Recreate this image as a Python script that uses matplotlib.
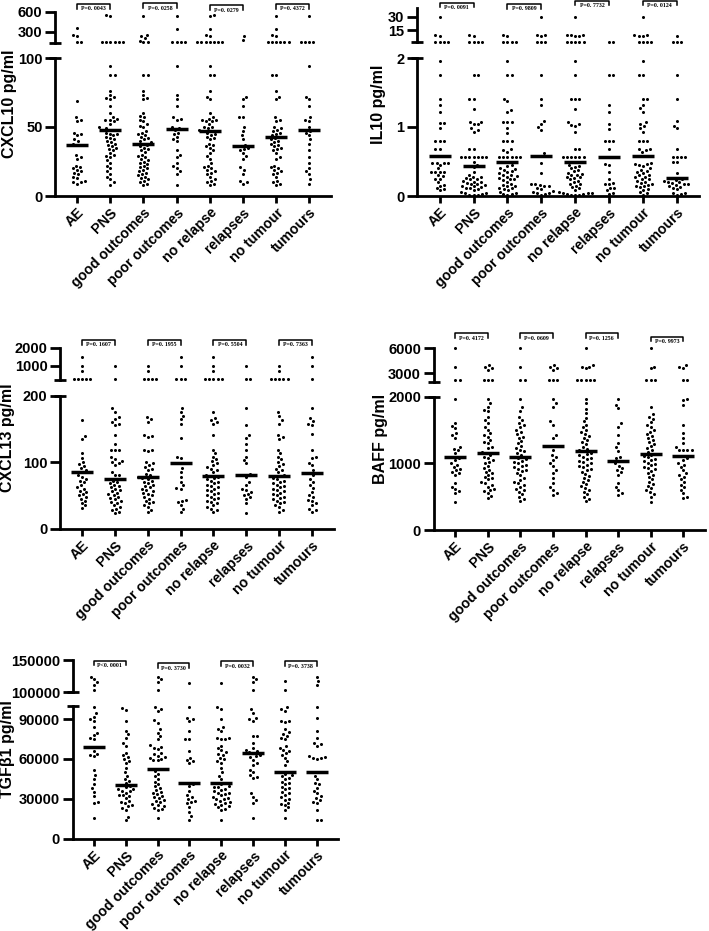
import numpy as np
import matplotlib
matplotlib.use("Agg")
import matplotlib.pyplot as plt
from matplotlib.transforms import blended_transform_factory

plt.rcParams['font.family'] = ['Liberation Sans', 'DejaVu Sans']
plt.rcParams['font.weight'] = 'bold'

W, H = 709, 931
fig = plt.figure(figsize=(W / 100, H / 100), dpi=100)

categories = ['AE', 'PNS', 'good outcomes', 'poor outcomes', 'no relapse',
              'relapses', 'no tumour', 'tumours']

# ---------------- CXCL10 (pg/ml) ----------------
cxcl10 = [
    [350, 245, 235, 150, 145, 69, 57, 55, 54, 46, 45, 44, 41, 40, 38, 37, 37, 30, 28, 27, 22, 21, 20, 19, 18, 17, 16, 14, 13, 11, 10, 10, 9],
    [545, 540, 150, 148, 145, 152, 142, 140, 94, 88, 88, 76, 73, 72, 71, 70, 65, 60, 57, 56, 55, 55, 54, 52, 50, 49, 48, 48, 48, 48, 46, 45, 45, 44, 43, 42, 41, 40, 39, 38, 37, 36, 35, 34, 33, 31, 30, 29, 28, 26, 24, 22, 20, 18, 16, 14, 12, 10, 8],
    [540, 250, 230, 200, 160, 150, 140, 88, 88, 76, 73, 71, 70, 60, 58, 57, 55, 54, 52, 51, 50, 47, 46, 45, 44, 43, 42, 41, 40, 39, 38, 38, 37, 36, 35, 34, 33, 32, 30, 29, 28, 27, 26, 25, 24, 23, 22, 21, 20, 19, 18, 17, 16, 15, 14, 13, 12, 11, 10, 9, 8],
    [540, 345, 150, 145, 140, 145, 94, 73, 70, 65, 57, 56, 55, 50, 49, 48, 46, 45, 43, 41, 40, 33, 30, 28, 24, 22, 20, 18, 16, 8],
    [545, 540, 345, 245, 235, 150, 148, 145, 142, 140, 152, 138, 94, 88, 88, 76, 72, 70, 60, 57, 56, 55, 55, 54, 54, 52, 50, 50, 49, 48, 47, 47, 47, 46, 45, 44, 43, 42, 41, 38, 37, 36, 35, 33, 31, 29, 27, 24, 22, 21, 20, 19, 18, 17, 16, 14, 12, 11, 10, 9, 8],
    [240, 180, 72, 70, 65, 57, 57, 50, 47, 44, 41, 37, 36, 36, 35, 34, 33, 31, 29, 27, 21, 19, 16, 11, 10, 9],
    [540, 345, 245, 235, 150, 148, 145, 142, 140, 152, 88, 88, 76, 72, 70, 57, 55, 54, 50, 49, 48, 47, 46, 45, 44, 43, 42, 41, 40, 39, 38, 37, 36, 35, 34, 33, 31, 28, 27, 22, 21, 20, 19, 18, 17, 16, 14, 11, 10, 9, 8],
    [540, 150, 145, 140, 148, 94, 72, 70, 65, 57, 55, 54, 50, 48, 47, 46, 44, 41, 38, 33, 28, 24, 20, 18, 16, 12, 9],
]
cxcl10_p = ['P=0. 0043', 'P=0. 0258', 'P=0. 0279', 'P=0. 4372']

# ---------------- IL10 (pg/ml) ----------------
il10 = [
    [30, 9.5, 9.2, 2.8, 2.8, 2.8, 2.8, 1.96, 1.75, 1.40, 1.32, 1.22, 1.06, 1.06, 0.98, 0.80, 0.80, 0.80, 0.68, 0.68, 0.58, 0.48, 0.48, 0.48, 0.48, 0.45, 0.40, 0.35, 0.35, 0.35, 0.35, 0.30, 0.29, 0.25, 0.25, 0.20, 0.16, 0.15, 0.12, 0.10, 0.08],
    [9.5, 9.0, 2.8, 2.8, 2.8, 2.8, 1.75, 1.75, 1.41, 1.41, 1.26, 1.07, 1.07, 1.04, 1.04, 0.98, 0.95, 0.93, 0.68, 0.68, 0.57, 0.57, 0.57, 0.57, 0.57, 0.57, 0.57, 0.50, 0.45, 0.42, 0.35, 0.30, 0.28, 0.27, 0.26, 0.25, 0.24, 0.22, 0.21, 0.20, 0.19, 0.18, 0.17, 0.16, 0.15, 0.14, 0.13, 0.12, 0.11, 0.10, 0.08, 0.06, 0.05, 0.04, 0.03, 0.02, 0.02, 0.01],
    [9.5, 9.0, 2.8, 2.8, 2.8, 2.8, 1.96, 1.75, 1.75, 1.41, 1.38, 1.25, 1.22, 1.07, 1.07, 1.07, 0.98, 0.92, 0.80, 0.80, 0.80, 0.68, 0.66, 0.64, 0.57, 0.57, 0.57, 0.57, 0.57, 0.57, 0.49, 0.49, 0.45, 0.44, 0.40, 0.39, 0.38, 0.36, 0.35, 0.33, 0.31, 0.30, 0.29, 0.28, 0.26, 0.25, 0.24, 0.23, 0.20, 0.18, 0.16, 0.15, 0.14, 0.12, 0.11, 0.10, 0.08, 0.06, 0.05, 0.03, 0.03, 0.02],
    [30, 9.8, 9.5, 9.2, 2.8, 2.8, 2.8, 1.75, 1.41, 1.32, 1.08, 1.04, 1.00, 0.96, 0.63, 0.58, 0.48, 0.33, 0.18, 0.17, 0.16, 0.15, 0.14, 0.12, 0.10, 0.07, 0.06, 0.05, 0.04, 0.03, 0.02],
    [30, 10, 9.8, 9.5, 9.2, 9.0, 2.8, 2.8, 2.8, 2.8, 2.8, 1.96, 1.75, 1.41, 1.41, 1.41, 1.26, 1.07, 1.05, 1.03, 1.02, 0.93, 0.68, 0.68, 0.57, 0.57, 0.57, 0.57, 0.57, 0.57, 0.49, 0.49, 0.45, 0.44, 0.42, 0.40, 0.38, 0.36, 0.34, 0.32, 0.31, 0.30, 0.28, 0.27, 0.26, 0.24, 0.22, 0.20, 0.18, 0.17, 0.15, 0.13, 0.11, 0.09, 0.06, 0.05, 0.04, 0.04, 0.03, 0.03, 0.02, 0.02, 0.01],
    [2.8, 2.8, 1.75, 1.75, 1.32, 1.22, 1.05, 0.97, 0.80, 0.80, 0.80, 0.68, 0.57, 0.46, 0.45, 0.35, 0.25, 0.19, 0.18, 0.17, 0.12, 0.11, 0.08, 0.05, 0.03],
    [30, 9.8, 9.5, 9.2, 9.0, 2.8, 2.8, 2.8, 2.8, 1.96, 1.75, 1.75, 1.41, 1.41, 1.32, 1.27, 1.22, 1.07, 1.05, 1.02, 0.98, 0.93, 0.80, 0.80, 0.80, 0.68, 0.68, 0.66, 0.64, 0.58, 0.48, 0.47, 0.46, 0.45, 0.44, 0.40, 0.38, 0.36, 0.35, 0.33, 0.31, 0.30, 0.28, 0.27, 0.25, 0.24, 0.22, 0.21, 0.19, 0.18, 0.16, 0.15, 0.14, 0.13, 0.10, 0.09, 0.06, 0.04, 0.02],
    [9.2, 2.8, 2.8, 2.8, 1.75, 1.41, 1.08, 1.02, 0.98, 0.68, 0.57, 0.57, 0.57, 0.57, 0.49, 0.49, 0.33, 0.26, 0.26, 0.24, 0.23, 0.22, 0.21, 0.20, 0.19, 0.18, 0.17, 0.16, 0.15, 0.13, 0.12, 0.10, 0.05, 0.04, 0.03, 0.02],
]
il10_p = ['P=0. 0091', 'P=0. 9809', 'P=0. 7732', 'P=0. 0124']

# ---------------- CXCL13 (pg/ml) ----------------
cxcl13 = [
    [1500, 1000, 700, 260, 250, 240, 255, 245, 163, 140, 135, 113, 106, 100, 97, 94, 91, 88, 85, 80, 78, 75, 72, 70, 65, 62, 60, 57, 55, 52, 50, 48, 45, 42, 38, 35, 31],
    [1000, 250, 181, 176, 168, 165, 160, 158, 156, 141, 128, 118, 118, 118, 108, 105, 102, 100, 98, 96, 85, 80, 80, 75, 74, 72, 70, 68, 66, 64, 62, 60, 58, 56, 54, 52, 50, 48, 46, 44, 42, 40, 38, 35, 32, 30, 28, 25, 23],
    [1000, 700, 260, 250, 245, 240, 168, 165, 161, 141, 140, 138, 118, 118, 116, 100, 98, 96, 93, 90, 88, 82, 80, 78, 77, 76, 75, 72, 70, 68, 66, 64, 62, 60, 58, 56, 54, 52, 50, 48, 45, 42, 40, 38, 35, 32, 28, 25],
    [1500, 1000, 260, 250, 240, 181, 175, 170, 165, 158, 136, 108, 106, 98, 91, 85, 78, 70, 65, 61, 60, 43, 42, 40, 35, 30, 25],
    [1500, 1000, 700, 260, 255, 250, 245, 240, 176, 166, 163, 160, 158, 141, 118, 113, 108, 104, 101, 98, 95, 92, 90, 88, 85, 80, 79, 78, 76, 74, 72, 70, 68, 66, 64, 62, 60, 58, 56, 54, 52, 50, 48, 46, 44, 42, 40, 38, 35, 32, 30, 28, 25],
    [1000, 260, 250, 181, 156, 141, 136, 128, 118, 108, 103, 98, 82, 80, 78, 70, 65, 60, 58, 55, 52, 50, 47, 45, 38, 23],
    [1000, 700, 260, 255, 250, 245, 240, 176, 170, 163, 158, 141, 138, 135, 118, 113, 108, 104, 100, 97, 94, 90, 88, 85, 80, 79, 76, 74, 72, 70, 68, 66, 64, 62, 60, 58, 56, 54, 52, 50, 48, 46, 44, 42, 40, 38, 35, 32, 28, 25],
    [1500, 1000, 250, 181, 166, 162, 158, 156, 143, 118, 108, 106, 99, 95, 88, 84, 80, 75, 70, 65, 61, 55, 50, 48, 43, 42, 38, 35, 30, 28, 25],
]
cxcl13_p = ['P=0. 1607', 'P=0. 1955', 'P=0. 5504', 'P=0. 7363']

# ---------------- BAFF (pg/ml) ----------------
baff = [
    [6000, 3800, 2200, 2200, 1967, 1600, 1560, 1530, 1450, 1420, 1380, 1250, 1220, 1200, 1150, 1100, 1096, 1080, 1050, 1000, 980, 950, 920, 900, 870, 850, 825, 700, 650, 620, 580, 555, 425],
    [4000, 3800, 3600, 3400, 2200, 2200, 2200, 1967, 1900, 1850, 1800, 1780, 1700, 1650, 1600, 1550, 1500, 1450, 1420, 1400, 1350, 1320, 1300, 1250, 1230, 1171, 1150, 1130, 1100, 1080, 1050, 1020, 1000, 960, 930, 900, 870, 850, 825, 800, 780, 760, 720, 700, 680, 650, 620, 600, 580, 550, 510, 475],
    [6000, 3800, 2200, 2200, 1967, 1840, 1780, 1700, 1650, 1600, 1570, 1540, 1500, 1470, 1440, 1400, 1380, 1330, 1300, 1260, 1230, 1200, 1180, 1150, 1130, 1096, 1080, 1060, 1040, 1020, 1000, 980, 960, 940, 920, 900, 880, 850, 820, 780, 750, 720, 700, 680, 650, 620, 600, 570, 540, 500, 470, 440],
    [4000, 3800, 3600, 3400, 2200, 2200, 2200, 1967, 1900, 1850, 1630, 1580, 1430, 1380, 1266, 1200, 1130, 1100, 1050, 1000, 960, 900, 850, 780, 700, 650, 600, 550, 525],
    [6000, 4000, 3800, 3800, 3600, 2200, 2200, 2200, 2200, 2200, 1967, 1900, 1820, 1750, 1680, 1630, 1580, 1540, 1500, 1470, 1440, 1410, 1380, 1350, 1320, 1290, 1250, 1220, 1196, 1180, 1160, 1140, 1120, 1100, 1080, 1060, 1040, 1020, 1000, 980, 960, 940, 920, 900, 870, 840, 810, 780, 750, 720, 690, 660, 630, 600, 570, 540, 500, 470, 440],
    [1967, 1880, 1830, 1600, 1550, 1430, 1300, 1240, 1190, 1100, 1080, 1036, 1000, 960, 930, 900, 870, 825, 700, 650, 600, 560, 525],
    [6000, 3800, 3600, 2200, 2200, 2200, 1840, 1740, 1700, 1670, 1620, 1580, 1540, 1500, 1470, 1440, 1410, 1380, 1350, 1320, 1290, 1260, 1230, 1200, 1170, 1146, 1130, 1110, 1090, 1070, 1050, 1030, 1010, 990, 970, 950, 930, 910, 890, 860, 830, 800, 760, 720, 690, 660, 630, 600, 570, 540, 500, 425],
    [4000, 3800, 3600, 2200, 2200, 1967, 1950, 1880, 1580, 1450, 1380, 1300, 1250, 1200, 1200, 1200, 1200, 1111, 1080, 1050, 1000, 980, 950, 900, 850, 820, 800, 760, 720, 680, 640, 600, 550, 500, 475],
]
baff_p = ['P=0. 4172', 'P=0. 0609', 'P=0. 1256', 'P=0. 9973']

# ---------------- TGFβ1 (pg/ml) ----------------
tgfb1 = [
    [124000, 120000, 116000, 112000, 104000, 98900, 94500, 92000, 90000, 88700, 84000, 80000, 78000, 76000, 74800, 69000, 68900, 66000, 64000, 63000, 62000, 51500, 48000, 45000, 41000, 38000, 35000, 31700, 27200, 27000, 15300],
    [98300, 97000, 88700, 81100, 78500, 76100, 72300, 69700, 64700, 63000, 61500, 60000, 58500, 57100, 53300, 50000, 47500, 45000, 43500, 41900, 40100, 39300, 38500, 37700, 37000, 36200, 35500, 34700, 33200, 32500, 31800, 30300, 28000, 27300, 26500, 25000, 24300, 22800, 21600, 16500, 14000],
    [124000, 120000, 116000, 104000, 98900, 97500, 96300, 89500, 87500, 82400, 80000, 77400, 74800, 70300, 69300, 68300, 67300, 64700, 63500, 62500, 61700, 61000, 60300, 59600, 59000, 52500, 51000, 49000, 47000, 45000, 43000, 41000, 39500, 38000, 36500, 35000, 34000, 33500, 32000, 31000, 30500, 29000, 28000, 27500, 26000, 25000, 24500, 23000, 22000, 21600, 15300],
    [114000, 98900, 91300, 90000, 88700, 81100, 75400, 75000, 66000, 61000, 59500, 58300, 57100, 41900, 41000, 39300, 36000, 32900, 31500, 30000, 28500, 27500, 26600, 24000, 20300, 17000, 14000],
    [114000, 98900, 98000, 90000, 84000, 82500, 81100, 76000, 75500, 75000, 74800, 69700, 68000, 66500, 65000, 64000, 63000, 61000, 59700, 58400, 57100, 53300, 50000, 47500, 44700, 41600, 40800, 39500, 39000, 38500, 37500, 36500, 35500, 34500, 34000, 33500, 32500, 31500, 30500, 30000, 29500, 28500, 27500, 26500, 26000, 25500, 24500, 23500, 22500, 21600, 14000],
    [124000, 120000, 116000, 104000, 97600, 95000, 91300, 90000, 88700, 77400, 77000, 72300, 68000, 67000, 66000, 65000, 64700, 63000, 62000, 61300, 59600, 57000, 55800, 52000, 50000, 48000, 46500, 45800, 34100, 31500, 29000, 26600, 15300],
    [118000, 104000, 98900, 97600, 96300, 88700, 88500, 88300, 82400, 80500, 79000, 77500, 76000, 74800, 69700, 68300, 67000, 65700, 64300, 63000, 61000, 58400, 55800, 50500, 49000, 48000, 47000, 46000, 45000, 43000, 42000, 41000, 39000, 38000, 37000, 35000, 34000, 33000, 31000, 30000, 29000, 27000, 26000, 25000, 23500, 21600, 15300],
    [124000, 118000, 112000, 98900, 91300, 81100, 76100, 72300, 71000, 69700, 62100, 61600, 61100, 60700, 60300, 50500, 47300, 44700, 42000, 40800, 38000, 36000, 34000, 32000, 30500, 29000, 27500, 26600, 21600, 14000, 14000],
]
tgfb1_p = ['P<0. 0001', 'P=0. 3730', 'P=0. 0032', 'P=0. 3738']


def fx(p):
    return p / W


def fy(p):
    return 1 - p / H


LW = 2.0
XL = (-0.67, 7.67)


def swarm_offsets(ax, xc, vals, d=4.2):
    """Greedy beeswarm: pixel x-offsets so that dots keep at least d px apart."""
    vals = np.asarray(vals, float)
    n = len(vals)
    if n == 0:
        return np.array([])
    ys = ax.transData.transform(np.column_stack([np.full(n, xc), vals]))[:, 1]
    order = np.argsort(ys, kind='stable')
    px, py = [], []
    offs = np.zeros(n)
    side = 1
    for i in order:
        y = ys[i]
        cands = [0.0]
        near = []
        for xj, yj in zip(px, py):
            dy = abs(y - yj)
            if dy < d:
                r = np.sqrt(d * d - dy * dy)
                near.append((xj, r))
                cands += [xj + r, xj - r]
        good = []
        for c in cands:
            if all(abs(c - xj) >= r - 1e-6 for xj, r in near):
                good.append(c)
        good.sort(key=lambda c: (round(abs(c), 3), -side * np.sign(c)))
        best = good[0]
        if best != 0:
            side = -np.sign(best)
        offs[i] = best
        px.append(best)
        py.append(y)
    return offs


def panel(xs, up, lo, uplim, lolim, upticks, loticks, data, pvals, label, lab_xy, brk_y):
    ut, ub = up
    lt, lb = lo
    width = xs[1] - xs[0]
    axu = fig.add_axes([fx(xs[0]), fy(ub), fx(width), (ub - ut) / H])
    axl = fig.add_axes([fx(xs[0]), fy(lb), fx(width), (lb - lt) / H])
    for ax in (axu, axl):
        ax.set_xlim(*XL)
        ax.spines[['top', 'right']].set_visible(False)
        ax.spines['left'].set_linewidth(LW)
        ax.patch.set_alpha(0)
        ax.tick_params(axis='y', length=7, width=LW, labelsize=10.5, pad=2)
    axu.spines['bottom'].set_visible(False)
    axu.set_xticks([])
    axl.spines['bottom'].set_linewidth(LW)
    axu.set_ylim(*uplim)
    axl.set_ylim(*lolim)
    axu.set_yticks(upticks)
    axu.set_yticklabels([str(t) for t in upticks])
    axl.set_yticks(loticks)
    axl.set_yticklabels([str(t) for t in loticks])
    axl.set_xticks(range(len(categories)))
    axl.set_xticklabels(categories, rotation=45, ha='right', rotation_mode='anchor', fontsize=10.2)
    axl.tick_params(axis='x', length=5, width=LW, pad=2)
    for ax, yy in ((axu, 0), (axl, 1)):
        ax.plot([0], [yy], marker='_', ms=8, mew=LW, color='k',
                transform=ax.transAxes, clip_on=False)

    pxu = axl.transData.transform((1, 0))[0] - axl.transData.transform((0, 0))[0]
    lo_max = lolim[1]
    for i, vals in enumerate(data):
        v = np.asarray(vals, float)
        for ax, vv in ((axl, v[v <= lo_max]), (axu, v[v > lo_max])):
            if len(vv) == 0:
                continue
            off = swarm_offsets(ax, i, vv)
            ax.plot(i + off / pxu, vv, 'o', ms=2.2, color='k', mew=0,
                    linestyle='none', clip_on=False)
        m = np.median(v)
        hw = 11 / pxu
        axl.plot([i - hw, i + hw], [m, m], color='k', lw=2.5,
                 solid_capstyle='butt', zorder=4)

    trans = blended_transform_factory(axu.transData, fig.transFigure)
    for k, (ptxt, by) in enumerate(zip(pvals, brk_y)):
        a, b = 2 * k, 2 * k + 1
        axu.plot([a, a, b, b], [fy(by + 4.5), fy(by), fy(by), fy(by + 4.5)],
                 color='k', lw=1.1, transform=trans, clip_on=False)
        axu.text((a + b) / 2, fy(by + 5), ptxt, transform=trans, ha='center',
                 va='center', fontsize=4.2, family='Liberation Serif', weight='bold')

    fig.text(fx(lab_xy[0]), fy(lab_xy[1]), label, rotation=90, ha='center',
             va='center', fontsize=11.5, weight='bold')


panel((55, 331.4), (11.7, 43.3), (58, 196), (125, 600), (0, 100), [300, 600], [0, 50, 100],
      cxcl10, cxcl10_p, 'CXCL10 pg/ml', (10, 104), [4, 3.3, 5, 4])
panel((417, 699.4), (7.8, 42.3), (58, 196), (2, 40), (0, 2), [15, 30], [0, 1, 2],
      il10, il10_p, 'IL10 pg/ml', (379, 104), [2.7, 4, 0.5, 0.5])
panel((60, 334), (347.7, 380), (395.7, 528.5), (200, 2000), (0, 200), [1000, 2000], [0, 100, 200],
      cxcl13, cxcl13_p, 'CXCL13 pg/ml', (8, 438), [340, 340, 340, 340])
panel((433.5, 705), (348.3, 381.6), (396.7, 530), (2000, 6000), (0, 2000), [3000, 6000], [0, 1000, 2000],
      baff, baff_p, 'BAFF pg/ml', (380, 439), [333.3, 333.3, 333.3, 336.7])
panel((72.5, 338.2), (660, 692.3), (706, 838.5), (100000, 150000), (0, 100000), [100000, 150000],
      [0, 30000, 60000, 90000], tgfb1, tgfb1_p, 'TGFβ1 pg/ml', (8, 749), [660.7, 663, 661, 661])

fig.savefig('out.png', dpi=100)
